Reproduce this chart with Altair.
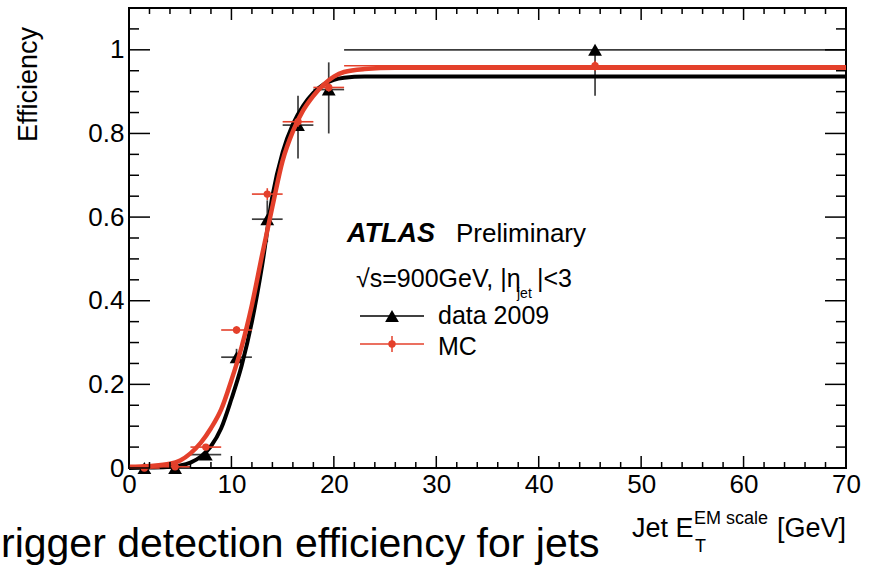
import altair as alt
import pandas as pd

# ---------------- data ----------------
x_center = [1.5, 4.5, 7.5, 10.5, 13.5, 16.5, 19.5, 45.5]
x_low = [0, 3, 6, 9, 12, 15, 18, 21]
x_high = [3, 6, 9, 12, 15, 18, 21, 70]

data_eff = [0.0, 0.0, 0.032, 0.265, 0.595, 0.82, 0.905, 1.0]
data_err_lo = [0.0, 0.0, 0.012, 0.02, 0.055, 0.08, 0.105, 0.11]
data_err_hi = [0.003, 0.003, 0.013, 0.02, 0.045, 0.07, 0.065, 0.0]

mc_eff = [0.0, 0.003, 0.05, 0.33, 0.655, 0.828, 0.91, 0.962]
mc_err = [0.002, 0.003, 0.006, 0.009, 0.014, 0.012, 0.01, 0.012]

fit_x_data = [0, 2, 4, 5, 6, 7, 8, 9, 10, 11, 12, 13, 14, 15, 16, 17, 18, 19, 20, 21, 23, 70]
fit_y_data = [0.0, 0.001, 0.003, 0.006, 0.013, 0.027, 0.052, 0.095, 0.165, 0.245, 0.35, 0.485,
              0.65, 0.755, 0.822, 0.866, 0.897, 0.917, 0.928, 0.933, 0.936, 0.936]

fit_x_mc = [0, 2, 4, 5, 6, 7, 8, 9, 10, 11, 12, 13, 14, 15, 16, 17, 18, 19, 20, 21, 23, 26, 70]
fit_y_mc = [0.003, 0.005, 0.01, 0.018, 0.035, 0.06, 0.095, 0.14, 0.21, 0.29, 0.39, 0.51,
            0.625, 0.735, 0.805, 0.855, 0.89, 0.917, 0.936, 0.947, 0.954, 0.957, 0.957]

x_major = [0, 10, 20, 30, 40, 50, 60, 70]
x_minor = [v for v in range(2, 70, 2) if v % 10 != 0]
y_major = [0, 0.2, 0.4, 0.6, 0.8, 1.0]
y_minor = [round(0.05 * i, 2) for i in range(1, 22) if i % 4 != 0]

RED = "#e4402b"
GREY = "#3c3c3c"
FONT = "Liberation Sans"
W, H = 717, 460
PL, PT = 129, 8

# ---------------- scales / axes ----------------
xscale = alt.Scale(domain=[0, 70], nice=False, zero=False)
yscale = alt.Scale(domain=[0, 1.1], nice=False, zero=False)
xaxis = alt.Axis(title=None, ticks=False, domain=False, grid=False, values=x_major,
                 labelFontSize=26, labelFont=FONT, labelColor="black", labelPadding=3,
                 labelFlush=False, labelOverlap=False)
yaxis = alt.Axis(title=None, ticks=False, domain=False, grid=False, values=y_major, format="~g",
                 labelFontSize=26, labelFont=FONT, labelColor="black", labelPadding=5,
                 labelFlush=False, labelOverlap=False)


def X(f):
    return alt.X(f, type="quantitative", scale=xscale, axis=xaxis)


def Y(f):
    return alt.Y(f, type="quantitative", scale=yscale, axis=yaxis)


pts = pd.DataFrame({
    "x": x_center, "xlo": x_low, "xhi": x_high,
    "d": data_eff,
    "dlo": [v - e for v, e in zip(data_eff, data_err_lo)],
    "dhi": [v + e for v, e in zip(data_eff, data_err_hi)],
    "m": mc_eff,
    "mlo": [v - e for v, e in zip(mc_eff, mc_err)],
    "mhi": [v + e for v, e in zip(mc_eff, mc_err)],
})
fit_d = pd.DataFrame({"x": fit_x_data, "y": fit_y_data})
fit_m = pd.DataFrame({"x": fit_x_mc, "y": fit_y_mc})

base = alt.Chart(pts)
d_h = base.mark_rule(color=GREY, strokeWidth=1.7).encode(x=X("xlo"), x2="xhi", y=Y("d"))
d_v = base.mark_rule(color=GREY, strokeWidth=1.7).encode(x=X("x"), y=Y("dlo"), y2="dhi")
d_p = base.mark_point(shape="triangle-up", filled=True, size=190, color="black", opacity=1).encode(
    x=X("x"), y=Y("d"))
d_fit = alt.Chart(fit_d).mark_line(color="black", strokeWidth=4, interpolate="monotone").encode(
    x=X("x"), y=Y("y"))

m_h = base.mark_rule(color=RED, strokeWidth=1.6).encode(x=X("xlo"), x2="xhi", y=Y("m"))
m_v = base.mark_rule(color=RED, strokeWidth=1.6).encode(x=X("x"), y=Y("mlo"), y2="mhi")
m_p = base.mark_point(shape="circle", filled=True, size=55, color=RED, opacity=1).encode(
    x=X("x"), y=Y("m"))
m_fit = alt.Chart(fit_m).mark_line(color=RED, strokeWidth=4.5, interpolate="monotone").encode(
    x=X("x"), y=Y("y"))

# ---------------- inward ROOT-style ticks ----------------
def xticks(vals, length):
    df = pd.DataFrame({"v": vals})
    c = alt.Chart(df)
    b = c.mark_rule(color="black", strokeWidth=1.5).encode(x=X("v"), y=alt.value(H), y2=alt.value(H - length))
    t = c.mark_rule(color="black", strokeWidth=1.5).encode(x=X("v"), y=alt.value(0), y2=alt.value(length))
    return [b, t]


def yticks(vals, length):
    df = pd.DataFrame({"v": vals})
    c = alt.Chart(df)
    l = c.mark_rule(color="black", strokeWidth=1.5).encode(y=Y("v"), x=alt.value(0), x2=alt.value(length))
    r = c.mark_rule(color="black", strokeWidth=1.5).encode(y=Y("v"), x=alt.value(W), x2=alt.value(W - length))
    return [l, r]


ticks = xticks(x_major, 12) + xticks(x_minor, 6) + yticks(y_major, 21) + yticks(y_minor, 10)


# ---------------- annotations ----------------
def txt(s, ax, ay, size, weight="normal", style="normal", align="left", baseline="alphabetic", angle=0,
        font=FONT):
    kw = dict(align=align, baseline=baseline, fontSize=size, font=font, fontWeight=weight,
              fontStyle=style, color="black")
    if angle:
        kw["angle"] = angle
    return alt.Chart(pd.DataFrame({"t": [s]})).mark_text(**kw).encode(
        text="t:N", x=alt.value(ax - PL), y=alt.value(ay - PT))


texts = [
    txt("ATLAS", 347, 242, 27, weight="bold", style="italic"),
    txt("Preliminary", 456, 242, 26),
    txt("\u221as=900GeV, |\u03b7", 356, 287, 25),
    txt("jet", 517, 298, 14),
    txt("|<3", 537, 287, 25),
    txt("data 2009", 438, 324, 25),
    txt("MC", 438, 355, 25),
    txt("Efficiency", 37, 27, 27, align="right", angle=270),
    txt("rigger detection efficiency for jets", 1, 557, 41),
    txt("Jet E", 632, 537, 27),
    txt("EM scale", 694, 524, 18),
    txt("T", 695, 552, 18),
    txt("[GeV]", 777, 537, 27),
]

leg = pd.DataFrame({"t": ["x"]})
legend = [
    alt.Chart(leg).mark_rule(color="black", strokeWidth=1.5).encode(
        x=alt.value(360 - PL), x2=alt.value(424 - PL), y=alt.value(316 - PT)),
    alt.Chart(leg).mark_point(shape="triangle-up", filled=True, size=190, color="black", opacity=1).encode(
        x=alt.value(392 - PL), y=alt.value(316 - PT)),
    alt.Chart(leg).mark_rule(color=RED, strokeWidth=1.5).encode(
        x=alt.value(360 - PL), x2=alt.value(424 - PL), y=alt.value(344 - PT)),
    alt.Chart(leg).mark_rule(color=RED, strokeWidth=1.5).encode(
        x=alt.value(392 - PL), y=alt.value(336 - PT), y2=alt.value(352 - PT)),
    alt.Chart(leg).mark_point(shape="circle", filled=True, size=55, color=RED, opacity=1).encode(
        x=alt.value(392 - PL), y=alt.value(344 - PT)),
]

chart = alt.layer(
    d_h, d_v, d_p, d_fit, m_h, m_v, m_p, m_fit, *ticks, *legend, *texts
).properties(
    width=W, height=H,
    padding={"left": PL, "top": PT, "right": 876 - PL - W, "bottom": 565 - PT - H},
    autosize=alt.AutoSizeParams(type="none"),
    background="white",
).configure_view(stroke="black", strokeWidth=2)

chart.save("out.html", embed_options={"renderer": "svg", "actions": False})
